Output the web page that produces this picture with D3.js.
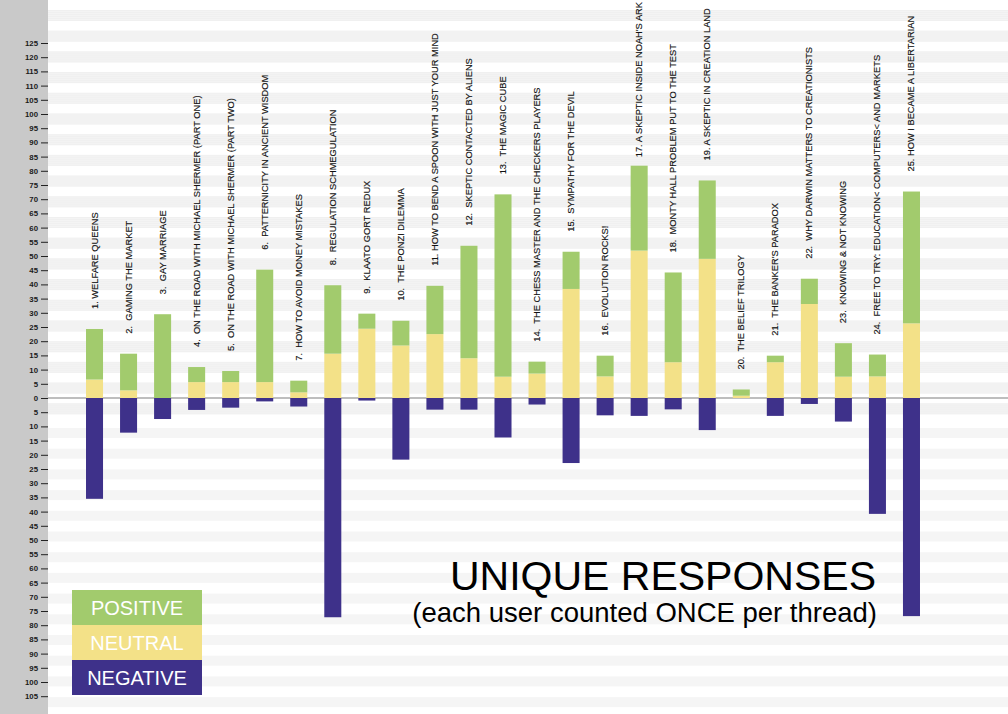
<!DOCTYPE html>
<html>
<head>
<meta charset="utf-8">
<script src="https://cdn.jsdelivr.net/npm/d3@7"></script>
<style>
  body { margin: 0; background: #fff; }
  svg { display: block; }
</style>
</head>
<body>
<div id="chart"></div>
<script>
const w = 1008
const h = 714

// Thread titles, in order
const threads = [
  "1. WELFARE QUEENS",
  "2.  GAMING THE MARKET",
  "3.  GAY MARRIAGE",
  "4.  ON THE ROAD WITH MICHAEL SHERMER (PART ONE)",
  "5.  ON THE ROAD WITH MICHAEL SHERMER (PART TWO)",
  "6.  PATTERNICITY IN ANCIENT WISDOM",
  "7.  HOW TO AVOID MONEY MISTAKES",
  "8.  REGULATION SCHMEGULATION",
  "9.  KLAATO GORT REDUX",
  "10.  THE PONZI DILEMMA",
  "11. HOW TO BEND A SPOON WITH JUST YOUR MIND",
  "12.  SKEPTIC CONTACTED BY ALIENS",
  "13.  THE MAGIC CUBE",
  "14.  THE CHESS MASTER AND THE CHECKERS PLAYERS",
  "15.  SYMPATHY FOR THE DEVIL",
  "16.  EVOLUTION ROCKS!",
  "17. A SKEPTIC INSIDE NOAH'S ARK",
  "18.  MONTY HALL PROBLEM PUT TO THE TEST",
  "19. A SKEPTIC IN CREATION LAND",
  "20.  THE BELIEF TRILOGY",
  "21.  THE BANKER'S PARADOX",
  "22.  WHY DARWIN MATTERS TO CREATIONISTS",
  "23.  KNOWING & NOT KNOWING",
  "24.  FREE TO TRY: EDUCATION< COMPUTERS< AND MARKETS",
  "25. HOW I BECAME A LIBERTARIAN"
]

// Unique responses per thread
const neutral  = [6.5, 2.7, 0, 5.6, 5.6, 5.6, 2.0, 15.6, 24.4, 18.5, 22.5, 14.0, 7.5, 8.6, 38.4, 7.6, 51.9, 12.6, 49.0, 0.8, 12.6, 33.1, 7.5, 7.6, 26.3]
const positive = [17.8, 12.9, 29.5, 5.3, 3.9, 39.6, 4.1, 24.1, 5.3, 8.7, 17.0, 39.6, 64.2, 4.2, 13.1, 7.3, 29.9, 31.6, 27.6, 2.2, 2.3, 8.9, 11.8, 7.7, 46.4]
const negative = [35.5, 12.2, 7.4, 4.2, 3.4, 1.2, 3.0, 77.2, 0.9, 21.7, 4.1, 4.1, 13.9, 2.3, 22.9, 6.1, 6.3, 4.0, 11.3, 0, 6.3, 2.1, 8.3, 40.8, 76.8]

// Axis ticks, shown without sign
const yTicks = d3.range(-105, 126, 5)

const legendItems = ["POSITIVE", "NEUTRAL", "NEGATIVE"]
const colors = { POSITIVE: "#a2cb6d", NEUTRAL: "#f3e188", NEGATIVE: "#3e318a" }

const svg = d3.select("#chart")
  .append("svg")
    .attr("width", w)
    .attr("height", h)

// --- Background stripes ---
const bg = svg.append("g")
d3.range(10, 415, 20.7).forEach(y0 => {
  bg.append("rect")
    .attr("x", 48).attr("y", y0)
    .attr("width", w - 48).attr("height", 11)
    .attr("fill", "#f4f4f4")
  // fine lines inside the band
  d3.range(0, 11, 2).forEach(d => {
    bg.append("line")
      .attr("x1", 48).attr("x2", w)
      .attr("y1", y0 + d + 0.5).attr("y2", y0 + d + 0.5)
      .attr("stroke", "#ececec").attr("stroke-width", 0.5)
  })
})
d3.range(428, h, 20.7).forEach(y0 => {
  bg.append("rect")
    .attr("x", 48).attr("y", y0)
    .attr("width", w - 48).attr("height", 10)
    .attr("fill", "#f5f5f5")
})

// --- Scales ---
const xScale = d3.scaleBand()
  .domain(d3.range(threads.length))
  .range([77.5, 928.5])
  .paddingInner(0.5)
  .paddingOuter(0.25)

const yScale = d3.scaleLinear()
  .domain([-105, 125])
  .range([696.2, 43])

// --- Y axis panel ---
svg.append("rect")
  .attr("x", 0).attr("y", 0)
  .attr("width", 48).attr("height", h)
  .attr("fill", "#c9c9c9")

const yAxis = svg.append("g")
  .attr("transform", "translate(48,0)")
  .call(d3.axisLeft(yScale)
    .tickValues(yTicks)
    .tickSize(7)
    .tickPadding(3)
    .tickFormat(d => Math.abs(d)))
yAxis.select(".domain").remove()
yAxis.selectAll("line").attr("stroke", "#222")
yAxis.selectAll("text")
  .attr("fill", "#1a1a1a")
  .style("font-family", "Liberation Sans, Arial, sans-serif")
  .style("font-size", "7.8px")
  .style("font-weight", "bold")

// zero line
svg.append("line")
  .attr("x1", 48).attr("x2", w)
  .attr("y1", yScale(0)).attr("y2", yScale(0))
  .attr("stroke", "#a9a9a9").attr("stroke-width", 1.6)

// --- Bars ---
const bars = svg.append("g")
const idx = d3.range(threads.length)

bars.selectAll(".neg")
  .data(idx)
  .join("rect")
    .attr("class", "neg")
    .attr("x", i => xScale(i))
    .attr("width", xScale.bandwidth())
    .attr("y", yScale(0))
    .attr("height", i => yScale(-negative[i]) - yScale(0))
    .attr("fill", colors.NEGATIVE)

bars.selectAll(".neu")
  .data(idx)
  .join("rect")
    .attr("class", "neu")
    .attr("x", i => xScale(i))
    .attr("width", xScale.bandwidth())
    .attr("y", i => yScale(neutral[i]))
    .attr("height", i => yScale(0) - yScale(neutral[i]))
    .attr("fill", colors.NEUTRAL)

bars.selectAll(".pos")
  .data(idx)
  .join("rect")
    .attr("class", "pos")
    .attr("x", i => xScale(i))
    .attr("width", xScale.bandwidth())
    .attr("y", i => yScale(neutral[i] + positive[i]))
    .attr("height", i => yScale(neutral[i]) - yScale(neutral[i] + positive[i]))
    .attr("fill", colors.POSITIVE)

// --- Thread labels, rotated above each bar ---
const labels = svg.append("g").selectAll("text")
  .data(idx)
  .join("text")
    .attr("fill", "#111")
    .attr("stroke", "#111")
    .attr("stroke-width", 0.15)
    .style("font-family", "Liberation Sans, Arial, sans-serif")
    .style("font-size", "9.3px")
    .style("white-space", "pre")
    .text(i => threads[i])

// place each label above its bar, keeping it inside the top edge
labels.attr("transform", function(i) {
  const x = xScale(i) + xScale.bandwidth() / 2 + 3
  const len = this.getComputedTextLength()
  const y = Math.max(yScale(neutral[i] + positive[i]) - 20, len + 2)
  return `translate(${x},${y}) rotate(-90)`
})

// --- Legend ---
const legend = svg.append("g").attr("transform", "translate(72,590)")
legend.selectAll("rect")
  .data(legendItems)
  .join("rect")
    .attr("x", 0)
    .attr("y", (d, i) => i * 35)
    .attr("width", 130)
    .attr("height", 35)
    .attr("fill", d => colors[d])
legend.selectAll("text")
  .data(legendItems)
  .join("text")
    .attr("x", 65)
    .attr("y", (d, i) => i * 35 + 25)
    .attr("text-anchor", "middle")
    .attr("fill", "#fff")
    .style("font-family", "Liberation Sans, Arial, sans-serif")
    .style("font-size", "20px")
    .text(d => d)

// --- Title ---
svg.append("text")
  .attr("x", 876).attr("y", 590)
  .attr("text-anchor", "end")
  .attr("fill", "#000")
  .style("font-family", "Liberation Sans, Arial, sans-serif")
  .style("font-size", "41px")
  .text("UNIQUE RESPONSES")

svg.append("text")
  .attr("x", 877).attr("y", 622)
  .attr("text-anchor", "end")
  .attr("fill", "#000")
  .style("font-family", "Liberation Sans, Arial, sans-serif")
  .style("font-size", "27.5px")
  .text("(each user counted ONCE per thread)")
</script>
</body>
</html>
